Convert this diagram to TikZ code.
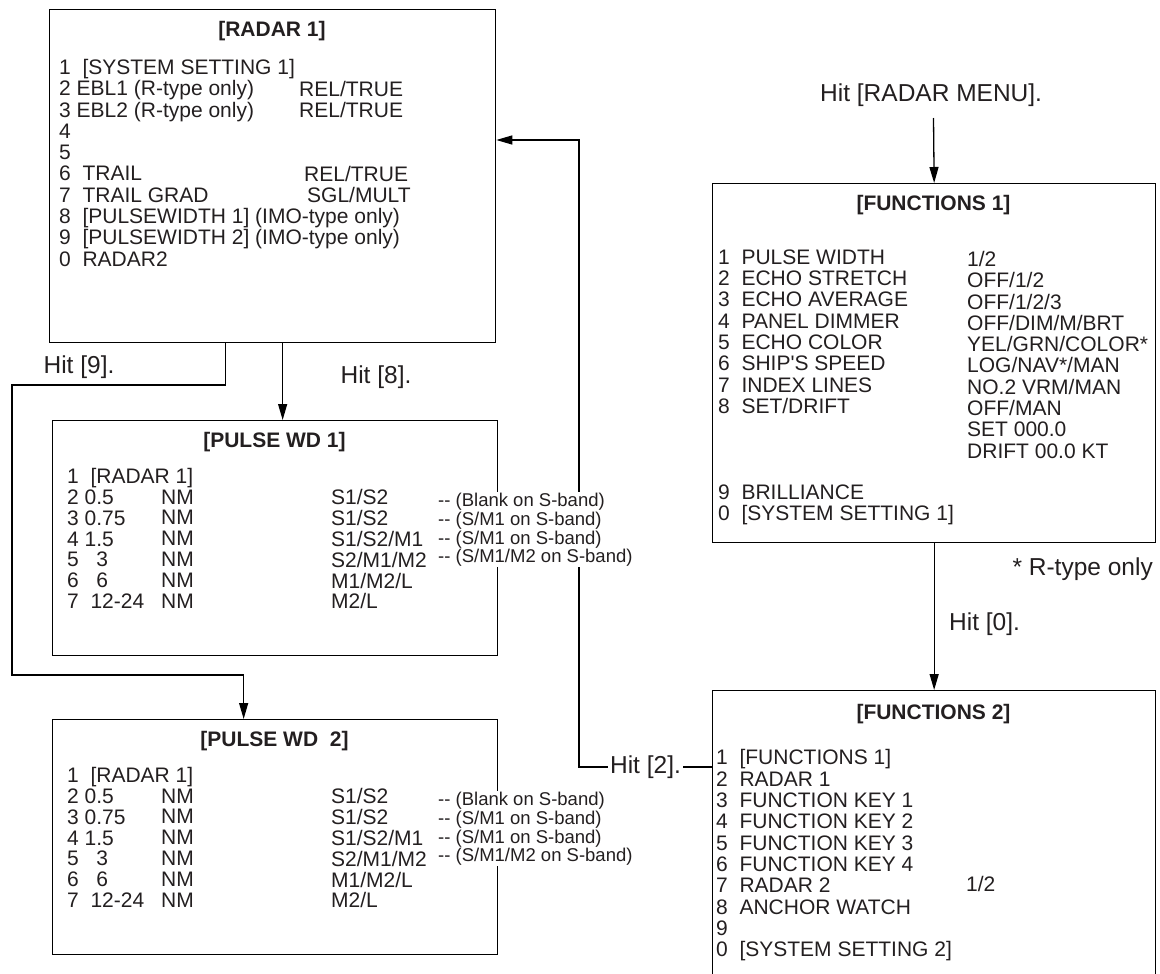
\documentclass[tikz,border=0pt]{standalone}
\usepackage{fontspec}
\setmainfont{Liberation Sans}
\usetikzlibrary{arrows.meta}

\definecolor{ink}{HTML}{231F20}
\newcommand{\menufont}{\fontsize{21}{21.3}\selectfont}
\newcommand{\pulsefont}{\fontsize{21}{20.8}\selectfont}
\newcommand{\notefont}{\fontsize{18.5}{18.6}\selectfont}
\newcommand{\hitfont}{\fontsize{24.5}{25}\selectfont}
\newcommand{\twodash}{-\kern0pt-}

\begin{document}
\begin{tikzpicture}[x=1pt,y=-1pt]
    \useasboundingbox (0,0) rectangle (1160,974);
    \clip (0,0) rectangle (1160,974);
		\begin{scope}
            [
                every node/.style={inner sep=0pt, text=ink, font=\menufont},
                menubox/.style={draw=black, line width=1.3pt, anchor=north west},
                boxtitle/.style={anchor=base, font=\menufont\bfseries},
                itemlist/.style={anchor=north west, align=left}
            ]

			\node(radar1)[menubox, minimum width=446pt, minimum height=333pt] at (49,9) {};
			\node(pulse1)[menubox, minimum width=445pt, minimum height=235pt] at (52,420) {};
			\node(pulse2)[menubox, minimum width=445pt, minimum height=235pt] at (52,719) {};
			\node(func1)[menubox, minimum width=443pt, minimum height=359pt] at (712,183) {};
			\node(func2)[menubox, minimum width=443pt, minimum height=320pt] at (712,690) {};

			\node(radar1title)[boxtitle] at (272,36.7) {[RADAR 1]};
			\node(radar1items)[itemlist] at (59,59) {1~~[SYSTEM SETTING 1]\\2 EBL1 (R-type only)\\3 EBL2 (R-type only)\\4\\5\\6~~TRAIL\\7~~TRAIL GRAD\\8~~[PULSEWIDTH 1] (IMO-type only)\\9~~[PULSEWIDTH 2] (IMO-type only)\\0~~RADAR2};
			\node(radar1ebl)[itemlist] at (299,80.6) {REL/TRUE\\REL/TRUE};
			\node(radar1trail)[itemlist] at (304,166.2) {REL/TRUE\\\hspace*{3pt}SGL/MULT};

			\node(pulse1title)[boxtitle] at (274.5,447.5) {[PULSE WD 1]};
			\node(pulse1items)[itemlist, font=\pulsefont] at (67,468.3) {1~~[RADAR 1]\\2 0.5\\3 0.75\\4 1.5\\5~~~3\\6~~~6\\7~~12-24};
			\node(pulse1nm)[itemlist, font=\pulsefont] at (161,489.5) {NM\\NM\\NM\\NM\\NM\\NM};
			\node(pulse1mode)[itemlist, font=\pulsefont] at (331,489.5) {S1/S2\\S1/S2\\S1/S2/M1\\S2/M1/M2\\M1/M2/L\\M2/L};

			\node(pulse2title)[boxtitle] at (274.5,746.5) {[PULSE WD~~2]};
			\node(pulse2items)[itemlist, font=\pulsefont] at (67,767.3) {1~~[RADAR 1]\\2 0.5\\3 0.75\\4 1.5\\5~~~3\\6~~~6\\7~~12-24};
			\node(pulse2nm)[itemlist, font=\pulsefont] at (161,788.5) {NM\\NM\\NM\\NM\\NM\\NM};
			\node(pulse2mode)[itemlist, font=\pulsefont] at (331,788.5) {S1/S2\\S1/S2\\S1/S2/M1\\S2/M1/M2\\M1/M2/L\\M2/L};

			\node(func1title)[boxtitle] at (933.5,210.5) {[FUNCTIONS 1]};
			\node(func1items)[itemlist] at (718,249.5) {1~~PULSE WIDTH\\2~~ECHO STRETCH\\3~~ECHO AVERAGE\\4~~PANEL DIMMER\\5~~ECHO COLOR\\6~~SHIP\textquotesingle S SPEED\\7~~INDEX LINES\\8~~SET/DRIFT};
			\node(func1more)[itemlist] at (718,484.5) {9~~BRILLIANCE\\0~~[SYSTEM SETTING 1]};
			\node(func1set)[itemlist] at (967,251) {1/2\\OFF/1/2\\OFF/1/2/3\\OFF/DIM/M/BRT\\YEL/GRN/COLOR*\\LOG/NAV*/MAN\\NO.2 VRM/MAN\\OFF/MAN\\SET 000.0\\DRIFT 00.0 KT};

			\node(func2title)[boxtitle] at (933.5,719) {[FUNCTIONS 2]};
			\node(func2items)[itemlist] at (716,749.5) {1~~[FUNCTIONS 1]\\2~~RADAR 1\\3~~FUNCTION KEY 1\\4~~FUNCTION KEY 2\\5~~FUNCTION KEY 3\\6~~FUNCTION KEY 4\\7~~RADAR 2\\8~~ANCHOR WATCH\\9\\0~~[SYSTEM SETTING 2]};
			\node(func2set)[itemlist] at (966,876.5) {1/2};

		\end{scope}
		\begin{scope}
            [>={Triangle[length=16pt,width=9pt]},
                every node/.style={fill=white, inner sep=2pt, text=ink, font=\hitfont, anchor=base},
                wire/.style={draw=black, line width=1.3pt}
            ]
            \coordinate(menutop) at (933.5,118);
            \coordinate(k9a) at (12,385);
            \coordinate(k9b) at (12,675);
            \coordinate(k2a) at (579,767);
            \coordinate(k2b) at (579,140);

            \node(hitmenu)[anchor=base west] at (818,101.8) {Hit [RADAR MENU].};
            \node(hit8) at (376,383.8) {Hit [8].};
            \node(hit9) at (79,373.8) {Hit [9].};
            \node(hit0)[anchor=base west] at (947,630.8) {Hit [0].};
            \node(rtype)[anchor=base east] at (1155,575.8) {* R-type only};

            \draw[wire,->] (menutop) -- (func1.north);
            \draw[wire,->] (func1.south) -- (func1.south |- func2.north);
            \draw[wire,->] ([xshift=10pt]radar1.south) -- ([xshift=10pt]radar1.south |- pulse1.north);
            \draw[wire,->] ([xshift=-47pt]radar1.south) |- (k9a) -- (k9b) -| ([xshift=-31.5pt]pulse2.north);
            \draw[wire,->] (func2.north west |- k2a) -- node[anchor=center]{Hit [2].} (k2a) -- (k2b) -- (k2b -| radar1.east);
		\end{scope}
		\begin{scope}
            [every node/.style={fill=white, inner sep=1pt, text=ink, font=\notefont, anchor=north west, align=left}]
            \node(pulse1notes) at (437,492.2) {\twodash{} (Blank on S-band)\\\twodash{} (S/M1 on S-band)\\\twodash{} (S/M1 on S-band)\\\twodash{} (S/M1/M2 on S-band)};
            \node(pulse2notes) at (437,791.2) {\twodash{} (Blank on S-band)\\\twodash{} (S/M1 on S-band)\\\twodash{} (S/M1 on S-band)\\\twodash{} (S/M1/M2 on S-band)};
		\end{scope}
    \end{tikzpicture}
\end{document}
